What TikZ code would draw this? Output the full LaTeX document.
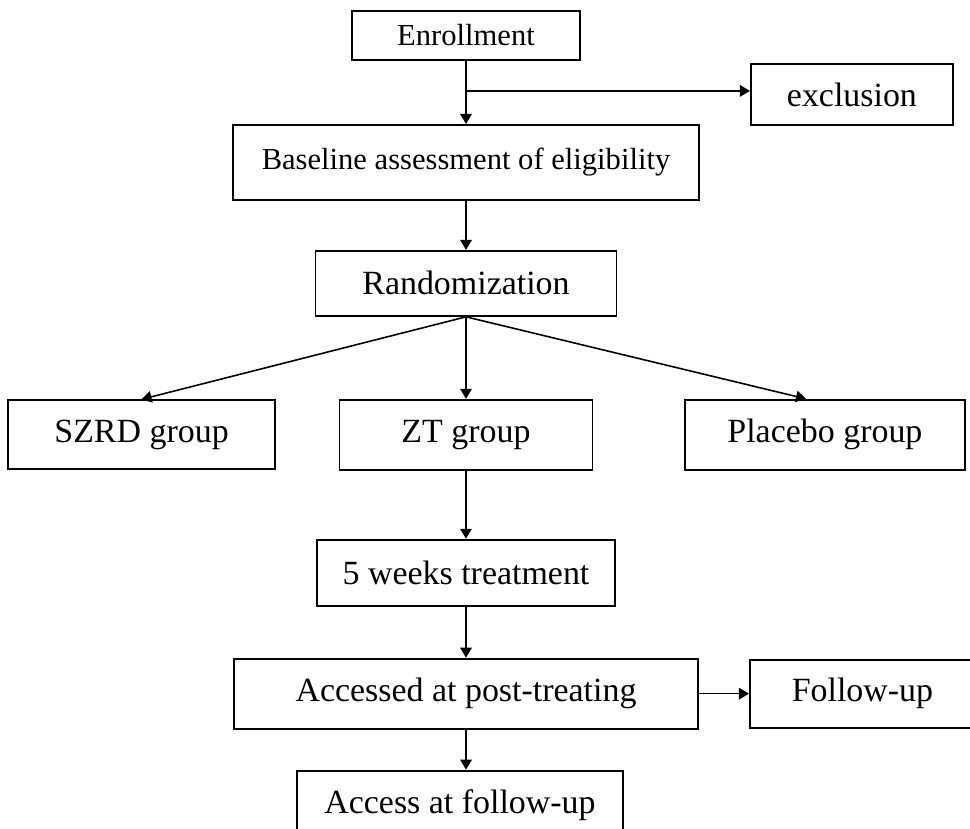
\documentclass[tikz,border=0pt]{standalone}
\usepackage{fontspec}
\setmainfont{Liberation Serif}
\usetikzlibrary{arrows.meta,positioning}

\begin{document}
\begin{tikzpicture}[->,>={Triangle[length=2mm,width=2.3mm]},line width=0.9pt,
                    node distance=1cm]
  \tikzstyle{box}=[draw=black,line width=1.1pt,inner sep=0pt,align=center,
                   font=\fontsize{19.3}{23}\selectfont]
  \tikzstyle{small box}=[box,font=\fontsize{17.4}{21}\selectfont]

  \useasboundingbox (0,0) rectangle (19.4,-16.58);

  \node[small box,minimum width=4.56cm,minimum height=0.98cm] (enroll)  at (9.32,-0.71)           {Enrollment};
  \node[small box,minimum width=9.32cm,minimum height=1.5cm]  (base)    [below=1.26cm of enroll] {Baseline assessment of eligibility};
  \node[box,minimum width=4.04cm,minimum height=1.22cm]       (excl)    [below right=0.04cm and 3.38cm of enroll] {exclusion};
  \node[box,minimum width=6.02cm,minimum height=1.3cm]        (rand)    [below=0.98cm of base]   {Randomization};
  \node[box,minimum width=5.06cm,minimum height=1.4cm]        (zt)      [below=1.64cm of rand]   {ZT group};
  \node[box,minimum width=5.34cm,minimum height=1.38cm]       (szrd)    [left=1.25cm of zt]      {SZRD group};
  \node[box,minimum width=5.6cm,minimum height=1.4cm]         (placebo) [right=1.81cm of zt]     {Placebo group};
  \node[box,minimum width=5.96cm,minimum height=1.32cm]       (weeks)   [below=1.36cm of zt]     {5 weeks treatment};
  \node[box,minimum width=9.28cm,minimum height=1.4cm]        (post)    [below=1.02cm of weeks]  {Accessed at post-treating};
  \node[box,minimum width=4.5cm,minimum height=1.36cm]        (fup)     [right=1cm of post]      {Follow-up};
  \node[box,minimum width=6.52cm,minimum height=1.38cm]       (access)  [below=0.8cm of post,xshift=-0.12cm] {Access at follow-up};

  \path (enroll) edge (base)
        ([yshift=0.07cm]enroll.south |- excl.west) edge ([yshift=0.07cm]excl.west)
        (base) edge (rand)
        (rand.south) edge (szrd.north)
                     edge (zt)
                     edge ([xshift=-0.38cm]placebo.north)
        (zt) edge (weeks)
        (weeks) edge (post)
        (post) edge (fup)
        (post.south) edge (post.south |- access.north);
\end{tikzpicture}
\end{document}
